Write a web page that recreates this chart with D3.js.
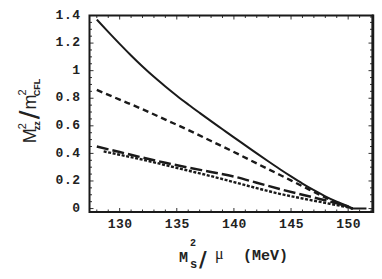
<!DOCTYPE html>
<html><head><meta charset="utf-8">
<script src="https://cdn.jsdelivr.net/npm/d3@7"></script>
<style>
html,body{margin:0;padding:0;background:#fff;}
svg{display:block;}
</style></head>
<body>
<script>
// ---- data ----
const xTicks = [130, 135, 140, 145, 150];
const yTicks = [0, 0.2, 0.4, 0.6, 0.8, 1, 1.2, 1.4];
const yTickLabels = ["0", "0.2", "0.4", "0.6", "0.8", "1", "1.2", "1.4"];

const solidX = [128.0, 129, 130, 131, 132, 133, 134, 135, 136, 137, 138, 139, 140, 141, 142, 143, 144, 145, 146, 147, 148, 149, 150, 150.4, 151.6];
const solidY = [1.37, 1.281, 1.194, 1.11, 1.03, 0.955, 0.885, 0.818, 0.755, 0.694, 0.634, 0.575, 0.516, 0.458, 0.4, 0.343, 0.287, 0.233, 0.181, 0.133, 0.089, 0.05, 0.017, 0, 0];

const dashX = [128.0, 130, 132, 134, 136, 138, 140, 142, 144, 146, 148, 149, 150, 150.4];
const dashY = [0.86, 0.79, 0.72, 0.645, 0.57, 0.49, 0.41, 0.327, 0.245, 0.162, 0.08, 0.043, 0.012, 0];

const longX = [128.0, 130, 132, 134, 136, 138, 140, 142, 144, 146, 148, 149, 150, 150.4];
const longY = [0.45, 0.41, 0.37, 0.332, 0.297, 0.265, 0.232, 0.187, 0.142, 0.10, 0.06, 0.038, 0.013, 0];

const dotX = [128.6, 130, 132, 134, 136, 138, 140, 142, 144, 146, 148, 149, 150, 150.4];
const dotY = [0.415, 0.39, 0.355, 0.315, 0.275, 0.235, 0.192, 0.148, 0.107, 0.073, 0.041, 0.025, 0.008, 0];

(function () {
// ---- layout ----
const W = 382, H = 279;
const pL = 89.5, pR = 372.5, pT = 15.5, pB = 212;
const x = d3.scaleLinear().domain([127.36, 152.13]).range([pL, pR]);
const y = d3.scaleLinear().domain([-0.025, 1.4]).range([pB, pT]);

const svg = d3.select("body").append("svg").attr("width", W).attr("height", H);

// curves
const line = d3.line().x(d => x(d[0])).y(d => y(d[1])).curve(d3.curveMonotoneX);
const series = [
  {xs: solidX, ys: solidY, dash: null, w: 2},
  {xs: dashX, ys: dashY, dash: "6,4", w: 2.4},
  {xs: longX, ys: longY, dash: "12,4", w: 2.4},
  {xs: dotX, ys: dotY, dash: "3,1.6", w: 2.4}
];
series.forEach(s => {
  svg.append("path")
    .datum(s.xs.map((v, i) => [v, s.ys[i]]))
    .attr("d", line)
    .attr("fill", "none")
    .attr("stroke", "#1a1a1a")
    .attr("stroke-width", s.w)
    .attr("stroke-dasharray", s.dash);
});

// ticks (inward, all sides)
const xMinor = d3.range(128, 153, 1).filter(v => !xTicks.includes(v));
const yMinor = d3.range(0, 1.41, 0.05).map(v => +v.toFixed(2)).filter(v => !yTicks.some(t => Math.abs(t - v) < 1e-6));
const tg = svg.append("g").attr("stroke", "#333").attr("stroke-width", 1);
function xt(vals, len) {
  vals.forEach(v => {
    tg.append("line").attr("x1", x(v)).attr("x2", x(v)).attr("y1", pB).attr("y2", pB - len);
    tg.append("line").attr("x1", x(v)).attr("x2", x(v)).attr("y1", pT).attr("y2", pT + len);
  });
}
function yt(vals, len) {
  vals.forEach(v => {
    tg.append("line").attr("y1", y(v)).attr("y2", y(v)).attr("x1", pL).attr("x2", pL + len);
    tg.append("line").attr("y1", y(v)).attr("y2", y(v)).attr("x1", pR).attr("x2", pR - len);
  });
}
xt(xTicks, 4); xt(xMinor, 2.5); yt(yTicks, 4); yt(yMinor, 2.5);

// frame
svg.append("rect").attr("x", pL).attr("y", pT).attr("width", pR - pL).attr("height", pB - pT)
  .attr("fill", "none").attr("stroke", "#1a1a1a").attr("stroke-width", 2);
svg.append("line").attr("x1", pR + 0.5).attr("x2", pR + 0.5).attr("y1", pT - 1).attr("y2", pB + 1)
  .attr("stroke", "#1a1a1a").attr("stroke-width", 2.5);

// tick labels via axes
const tickFont = "'Liberation Mono', 'DejaVu Sans Mono', monospace";
const xAxis = svg.append("g").attr("transform", `translate(0,${pB})`)
  .call(d3.axisBottom(x).tickValues(xTicks).tickSize(0).tickPadding(7).tickFormat(d3.format("d")));
const yAxis = svg.append("g").attr("transform", `translate(${pL},0)`)
  .call(d3.axisLeft(y).tickValues(yTicks).tickSize(0).tickPadding(9).tickFormat((d, i) => yTickLabels[i]));
[xAxis, yAxis].forEach(a => {
  a.select(".domain").remove();
  a.selectAll("text").attr("font-family", tickFont).attr("font-size", 13).attr("fill", "#222")
    .attr("font-weight", "bold").attr("letter-spacing", "0.5");
});
yAxis.selectAll("text").attr("dy", "0.2em");

// x axis title (separate pieces)
const tx = svg.append("g").attr("fill", "#222").attr("font-family", tickFont).attr("font-weight", "bold");
tx.append("text").attr("x", 179).attr("y", 262).attr("font-size", 15).text("M");
tx.append("text").attr("x", 190).attr("y", 246).attr("font-size", 10).text("2");
tx.append("text").attr("x", 190).attr("y", 268).attr("font-size", 12).text("s");
tx.append("text").attr("x", 199).attr("y", 267).attr("font-size", 21)
  .attr("font-family", "'DejaVu Sans', sans-serif").attr("font-weight", "bold").text("/");
tx.append("text").attr("x", 215).attr("y", 259).attr("font-size", 16)
  .attr("font-family", "'Liberation Serif', serif").attr("font-weight", "normal").text("μ");
tx.append("text").attr("x", 243).attr("y", 260).attr("font-size", 15).text("(MeV)");

// y axis title (rotated)
const yt1 = svg.append("text").attr("transform", "translate(36,111) rotate(-90)")
  .attr("text-anchor", "middle").attr("font-family", "'Liberation Sans', Arial, sans-serif")
  .attr("font-size", 18).attr("fill", "#222");
yt1.append("tspan").text("M");
yt1.append("tspan").attr("font-size", 11).attr("dy", -10).attr("dx", -1).text("2");
yt1.append("tspan").attr("font-size", 9).attr("font-weight", "bold").attr("dy", 14).attr("dx", -7).text("zz");
yt1.append("tspan").attr("font-size", 24).attr("font-weight", "bold").attr("font-family", "'DejaVu Sans', sans-serif").attr("dy", -3).attr("dx", 2).text("/");
yt1.append("tspan").attr("dy", -1).attr("dx", 1).text("m");
yt1.append("tspan").attr("font-size", 11).attr("dy", -10).attr("dx", -1).text("2");
yt1.append("tspan").attr("font-size", 9).attr("font-weight", "bold").attr("dy", 14).attr("dx", -7).text("CFL");
})();
</script>
</body></html>
